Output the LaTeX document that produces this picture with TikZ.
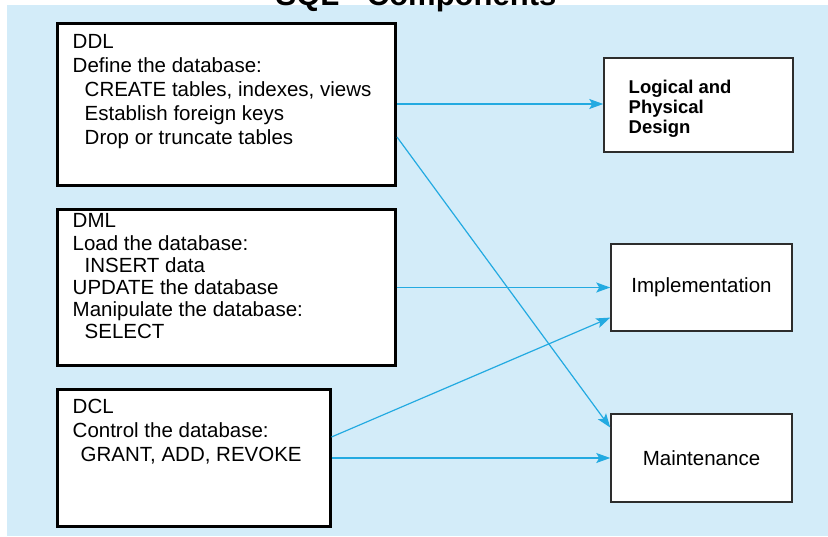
\documentclass[tikz,border=0pt]{standalone}
\usepackage{fontspec}
\setmainfont{Liberation Sans}
\usetikzlibrary{calc}
\usetikzlibrary{arrows.meta}

\definecolor{bgblue}{RGB}{211,236,249}
\definecolor{arrowblue}{RGB}{35,170,225}
\definecolor{boxgray}{RGB}{45,45,45}

\newcommand{\ind}{\hspace*{12pt}}

\begin{document}
\begin{tikzpicture}[x=1pt,y=-1pt,
  lang/.style={draw=black, line width=3pt, fill=white, inner sep=0, anchor=north west},
  phase/.style={draw=boxgray, line width=1.5pt, fill=white, inner sep=0, anchor=north west},
  txt/.style={anchor=north west, align=left, inner sep=0, font=\fontsize{20.5}{24}\selectfont},
  link/.style={arrowblue, line width=1.2pt, -{Stealth[length=14pt,width=10pt,inset=3pt]}}]
\useasboundingbox (0,0) rectangle (828,536);
\fill[bgblue] (7,5) rectangle (828,536);

\node[anchor=base, font=\bfseries\fontsize{31}{31}\selectfont] (title) at (416,5) {SQL - Components};

% language boxes
\node[lang, minimum width=338pt, minimum height=162pt] (ddl) at (56,21.5) {};
\node[lang, minimum width=337.5pt, minimum height=156pt] (dml) at (56,208) {};
\node[lang, minimum width=272.5pt, minimum height=137pt] (dcl) at (56,388) {};

\node[txt] (ddltxt) at ($(ddl.north west)+(16.5,12.3)$) {DDL\\Define the database:\\
  \ind CREATE tables, indexes, views\\\ind Establish foreign keys\\\ind Drop or truncate tables};
\node[txt, font=\fontsize{20.5}{22.2}\selectfont] (dmltxt) at ($(dml.north west)+(16.5,5.5)$) {DML\\Load the database:\\
  \ind INSERT data\\UPDATE the database\\Manipulate the database:\\\ind SELECT};
\node[txt] (dcltxt) at ($(dcl.north west)+(16.5,10.8)$) {DCL\\Control the database:\\
  \hspace*{8pt}GRANT, ADD, REVOKE};

% phase boxes
\node[phase, minimum width=189pt, minimum height=94pt] (logical) at (603.25,57.25) {};
\node[phase, minimum width=181pt, minimum height=87pt] (impl) at (610.25,243.25) {};
\node[phase, minimum width=181pt, minimum height=88pt] (maint) at (610.25,413.25) {};

\node[txt, font=\bfseries\fontsize{18.5}{20}\selectfont] (logtxt) at ($(logical.north west)+(25.25,22.55)$) {Logical and\\Physical\\Design};
\node[font=\fontsize{20.5}{24}\selectfont] (impltxt) at (impl.center) {Implementation};
\node[font=\fontsize{20.5}{24}\selectfont] (mainttxt) at (maint.center) {Maintenance};

\foreach \a/\b in {ddl/logical, dml/impl, dcl/maint}
\draw[link] (\a.east) -- (\a.east -| \b.west);

\draw[link] ($(ddl.north east)!0.7!(ddl.south east)$) -- ($(maint.north west)!0.16!(maint.south west)$);
\draw[link] ($(dcl.north east)!0.35!(dcl.south east)$) -- ($(impl.north west)!0.84!(impl.south west)$);

\end{tikzpicture}
\end{document}
